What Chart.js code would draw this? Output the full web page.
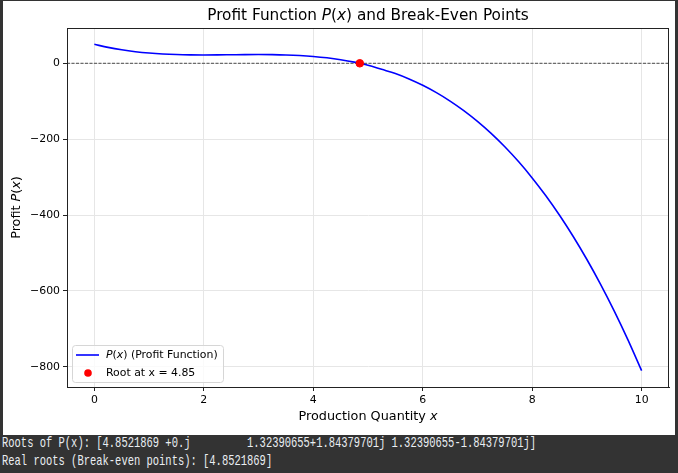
<!DOCTYPE html>
<html>
<head>
<meta charset="utf-8">
<script src="https://cdn.jsdelivr.net/npm/chart.js@4"></script>
<style>
  html, body { margin: 0; padding: 0; }
  body { width: 678px; height: 473px; background: #333333; position: relative; overflow: hidden; }
  #panel { position: absolute; left: 3px; top: 1px; width: 672px; height: 434px; background: #fff; }
  #console { position: absolute; left: 2px; top: 435px; color: #eaeef2;
    font-family: "Liberation Mono", "DejaVu Sans Mono", monospace; font-size: 15px; line-height: 18px;
    white-space: pre; transform: scaleX(0.698); transform-origin: 0 0; }
</style>
</head>
<body>
<div id="panel"><canvas id="profitChart" width="672" height="434"></canvas></div>
<div id="console">Roots of P(x): [4.8521869 +0.j         1.32390655+1.84379701j 1.32390655-1.84379701j]
Real roots (Break-even points): [4.8521869]</div>
<script>
// values
const xValues = [0, 0.25, 0.5, 0.75, 1, 1.25, 1.5, 1.75, 2, 2.25, 2.5, 2.75, 3, 3.25, 3.5, 3.75, 4, 4.25, 4.5, 4.75,
  5, 5.25, 5.5, 5.75, 6, 6.25, 6.5, 6.75, 7, 7.25, 7.5, 7.75, 8, 8.25, 8.5, 8.75, 9, 9.25, 9.5, 9.75, 10];
const profitValues = [50, 41.91, 35.5, 30.59, 27, 24.53, 23, 22.22, 22, 22.16, 22.5, 22.84, 23, 22.78, 22, 20.47,
  18, 14.41, 9.5, 3.09, -5, -15.97, -27, -41.28, -58, -77.34, -99.5, -124.66, -153, -184.72, -220, -259.03,
  -302, -349.09, -400.5, -456.41, -517, -582.47, -653, -728.78, -810];
const rootX = [4.85];
const rootY = [0];
const xTicks = [0, 2, 4, 6, 8, 10];
const yTicks = [-800, -600, -400, -200, 0];

const FONT = '"DejaVu Sans", sans-serif';

function richText(ctx, parts, x, y, size, align) {
  ctx.save();
  let total = 0;
  parts.forEach(p => {
    ctx.font = (p.it ? 'italic ' : '') + size + 'px ' + FONT;
    total += ctx.measureText(p.t).width;
  });
  let cx = align === 'center' ? x - total / 2 : x;
  ctx.textAlign = 'left';
  ctx.textBaseline = 'middle';
  ctx.fillStyle = '#000';
  parts.forEach(p => {
    ctx.font = (p.it ? 'italic ' : '') + size + 'px ' + FONT;
    ctx.fillText(p.t, cx, y);
    cx += ctx.measureText(p.t).width;
  });
  ctx.restore();
}

const extras = {
  id: 'extras',
  beforeDatasetsDraw(chart) {
    const {ctx, chartArea: a, scales} = chart;
    const y0 = scales.y.getPixelForValue(0);
    ctx.save();
    ctx.strokeStyle = '#222';
    ctx.lineWidth = 0.8;
    ctx.setLineDash([3, 1.5]);
    ctx.beginPath();
    ctx.moveTo(a.left, y0);
    ctx.lineTo(a.right, y0);
    ctx.stroke();
    ctx.restore();
  },
  afterDraw(chart) {
    const {ctx, chartArea: a} = chart;
    ctx.save();
    ctx.strokeStyle = '#222';
    ctx.lineWidth = 1;
    ctx.strokeRect(a.left + 0.5, a.top + 0.5, a.right - a.left - 1, a.bottom - a.top);
    ctx.restore();

    const cx = (a.left + a.right) / 2;
    richText(ctx, [{t: 'Profit Function '}, {t: 'P', it: true}, {t: '('}, {t: 'x', it: true},
      {t: ') and Break-Even Points'}], cx, 15, 15.3, 'center');
    richText(ctx, [{t: 'Production Quantity '}, {t: 'x', it: true}], cx, 416, 12.8, 'center');

    ctx.save();
    ctx.translate(14, (a.top + a.bottom) / 2);
    ctx.rotate(-Math.PI / 2);
    richText(ctx, [{t: 'Profit '}, {t: 'P', it: true}, {t: '('}, {t: 'x', it: true}, {t: ')'}], 0, 0, 12.8, 'center');
    ctx.restore();

    // legend
    const bx = a.left + 5, by = a.bottom - 42, bw = 151, bh = 37;
    ctx.save();
    ctx.fillStyle = 'rgba(255,255,255,0.8)';
    ctx.strokeStyle = '#d6d6d6';
    ctx.lineWidth = 1;
    ctx.beginPath();
    ctx.roundRect(bx + 0.5, by + 0.5, bw, bh, 3);
    ctx.fill();
    ctx.stroke();
    ctx.strokeStyle = 'blue';
    ctx.lineWidth = 1.6;
    ctx.beginPath();
    ctx.moveTo(bx + 4, by + 10);
    ctx.lineTo(bx + 27, by + 10);
    ctx.stroke();
    ctx.fillStyle = 'red';
    ctx.beginPath();
    ctx.arc(bx + 16, by + 28, 3.8, 0, Math.PI * 2);
    ctx.fill();
    ctx.restore();
    richText(ctx, [{t: 'P', it: true}, {t: '('}, {t: 'x', it: true}, {t: ') (Profit Function)'}], bx + 34, by + 10, 10.9, 'left');
    richText(ctx, [{t: 'Root at x = 4.85'}], bx + 34, by + 28, 10.9, 'left');
  }
};

new Chart(document.getElementById('profitChart'), {
  type: 'scatter',
  data: {
    datasets: [
      {
        label: 'Root at x = 4.85',
        data: rootX.map((x, i) => ({x: x, y: rootY[i]})),
        backgroundColor: 'red',
        borderColor: 'red',
        pointRadius: 3.8,
        order: 0
      },
      {
        label: 'P(x) (Profit Function)',
        data: xValues.map((x, i) => ({x: x, y: profitValues[i]})),
        showLine: true,
        borderColor: 'blue',
        borderWidth: 1.6,
        pointRadius: 0,
        cubicInterpolationMode: 'monotone',
        order: 1
      }
    ]
  },
  options: {
    responsive: false,
    animation: false,
    devicePixelRatio: 1,
    layout: { padding: { left: 0, right: 6, top: 27, bottom: 0 } },
    plugins: { legend: { display: false }, title: { display: false }, tooltip: { enabled: false } },
    scales: {
      x: {
        type: 'linear', min: -0.5, max: 10.5,
        afterBuildTicks: s => { s.ticks = xTicks.map(v => ({value: v})); },
        afterFit: s => { s.height = 48; },
        grid: { color: '#e6e6e6', tickColor: '#222', tickLength: 4 },
        border: { display: true, color: '#222' },
        ticks: { font: { family: FONT, size: 10.9 }, color: '#000', padding: 3, maxRotation: 0 }
      },
      y: {
        type: 'linear', min: -853, max: 93,
        afterBuildTicks: s => { s.ticks = yTicks.map(v => ({value: v})); },
        afterFit: s => { s.width = 64; },
        grid: { color: '#e6e6e6', tickColor: '#222', tickLength: 4 },
        border: { display: true, color: '#222' },
        ticks: { font: { family: FONT, size: 10.9 }, color: '#000', padding: 3,
          callback: v => String(v).replace('-', '\u2212') }
      }
    }
  },
  plugins: [extras]
});
</script>
</body>
</html>
